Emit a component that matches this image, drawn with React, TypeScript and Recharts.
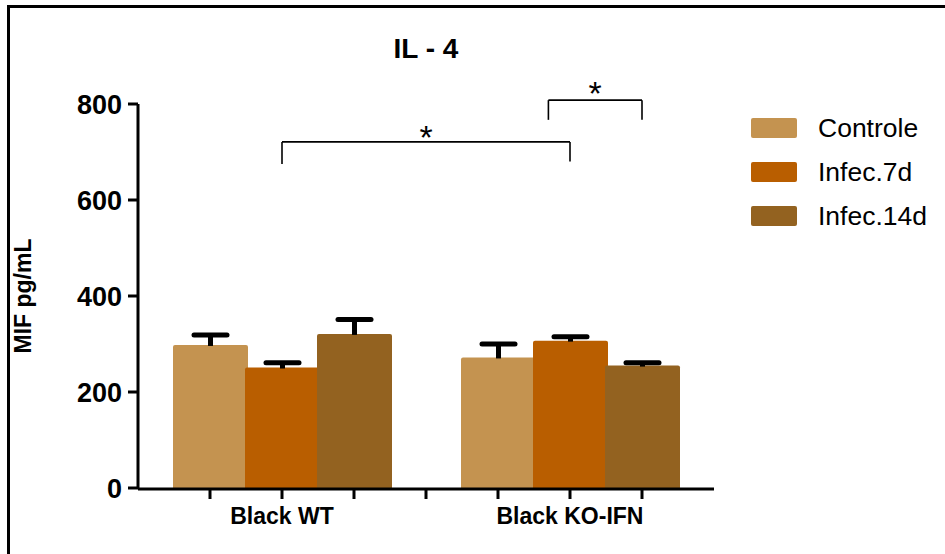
import React from 'react';
import { BarChart, Bar, XAxis, YAxis, Legend, ReferenceLine, ReferenceDot } from 'recharts';

const groups = ['Black WT', 'Black KO-IFN'];
const groupSlots = [2, 6];
const seriesNames = ['Controle', 'Infec.7d', 'Infec.14d'];
const seriesKeys = ['controle', 'infec7', 'infec14'];
const seriesColors = ['#C49350', '#B95E00', '#936220'];
const controleMean = [298, 272];
const controleErr = [21, 28];
const infec7Mean = [251, 307];
const infec7Err = [10, 8];
const infec14Mean = [321, 255];
const infec14Err = [30, 6];
const yTicks = [0, 200, 400, 600, 800];
const slotTicks = [1, 2, 3, 4, 5, 6, 7];
const brackets = [
  { x1: 2, x2: 6, y: 721, yEnd1: 675, yEnd2: 680 },
  { x1: 5.7, x2: 7, y: 808, yEnd1: 767, yEnd2: 767 },
];
const stars = [
  { x: 4, y: 707 },
  { x: 6.35, y: 798 },
];

const data = groups.map((g, i) => ({
  group: g,
  slot: groupSlots[i],
  controle: controleMean[i],
  controleErr: controleErr[i],
  infec7: infec7Mean[i],
  infec7Err: infec7Err[i],
  infec14: infec14Mean[i],
  infec14Err: infec14Err[i],
}));

const FONT = "'Liberation Sans', Arial, Helvetica, sans-serif";

const makeShape = (errKey: string) => (props: any) => {
  const { x, y, width, height, fill, payload, value } = props;
  const v = Array.isArray(value) ? value[1] : value;
  const err = payload[errKey];
  const pxPerUnit = v ? height / v : 0;
  const top = y - err * pxPerUnit;
  const cx = x + width / 2;
  const r = 2;
  return (
    <g>
      <path
        d={`M${x},${y + height} L${x},${y + r} Q${x},${y} ${x + r},${y} L${x + width - r},${y} Q${x + width},${y} ${x + width},${y + r} L${x + width},${y + height} Z`}
        fill={fill}
      />
      <line x1={cx} y1={y + 1} x2={cx} y2={top} stroke="#000" strokeWidth={5} />
      <line x1={cx - 16.5} x2={cx + 16.5} y1={top} y2={top} stroke="#000" strokeWidth={5} strokeLinecap="round" />
    </g>
  );
};

const XTick = (props: any) => {
  const { x, y, payload } = props;
  return (
    <text x={x} y={y + 35} textAnchor="middle" fontWeight="bold" fontSize={23} fill="#000" fontFamily={FONT}>
      {payload.value}
    </text>
  );
};

const LegendContent = () => (
  <div style={{ fontFamily: FONT, fontSize: 26.5, color: '#000' }}>
    {seriesNames.map((n, i) => (
      <div key={n} style={{ display: 'flex', alignItems: 'center', height: 44 }}>
        <div style={{ width: 46, height: 20, background: seriesColors[i], borderRadius: 2 }} />
        <span style={{ marginLeft: 21 }}>{n}</span>
      </div>
    ))}
  </div>
);

const YLabel = (p: any) => {
  const vb = p.viewBox || { x: 0, y: 104, width: 138, height: 384 };
  return (
    <text
      transform={`translate(${vb.x + 23},${vb.y + vb.height / 2}) rotate(-90)`}
      textAnchor="middle"
      dominantBaseline="central"
      fontWeight="bold"
      fontSize={23}
      fill="#000"
      fontFamily={FONT}
    >
      MIF pg/mL
    </text>
  );
};

export default function App() {
  return (
    <div style={{ position: 'absolute', left: 0, top: 0, width: 945, height: 554, fontFamily: FONT, background: '#fff' }}>
      <div
        style={{
          position: 'absolute',
          left: 7,
          top: 5,
          width: 945 - 7,
          height: 554 - 5,
          borderTop: '3px solid #000',
          borderLeft: '3px solid #000',
          boxSizing: 'border-box',
          pointerEvents: 'none',
        }}
      />
      <div
        style={{
          position: 'absolute',
          left: 138,
          width: 576,
          top: 33,
          textAlign: 'center',
          fontWeight: 'bold',
          fontSize: 28,
          color: '#000',
        }}
      >
        IL - 4
      </div>
      <BarChart
        width={945}
        height={554}
        data={data}
        margin={{ top: 104, right: 231, left: 0, bottom: 0 }}
        barSize={75}
        barGap={-3}
        style={{ fontFamily: FONT }}
      >
        <XAxis
          xAxisId="axisA"
          dataKey="slot"
          type="number"
          domain={[0, 8]}
          allowDataOverflow
          ticks={slotTicks}
          interval={0}
          axisLine={false}
          tickLine={{ stroke: '#000', strokeWidth: 3 }}
          tickSize={11}
          tickFormatter={() => ''}
          height={1}
        />
        <XAxis
          xAxisId="axisB"
          dataKey="group"
          axisLine={{ stroke: '#000', strokeWidth: 3 }}
          tickLine={false}
          tickSize={0}
          tickMargin={0}
          tick={<XTick />}
          height={65}
          interval={0}
        />
        <YAxis
          domain={[0, 800]}
          ticks={yTicks}
          interval={0}
          width={138}
          axisLine={{ stroke: '#000', strokeWidth: 3 }}
          tickLine={{ stroke: '#000', strokeWidth: 3 }}
          tickSize={10}
          tickMargin={6}
          tick={{ fill: '#000', fontSize: 27, fontWeight: 'bold', fontFamily: FONT }}
          label={{ content: <YLabel /> }}
        />
        {seriesKeys.map((k, i) => (
          <Bar
            key={k}
            xAxisId="axisB"
            dataKey={k}
            name={seriesNames[i]}
            fill={seriesColors[i]}
            isAnimationActive={false}
            shape={makeShape(k + 'Err')}
          />
        ))}
        {brackets.map((b, i) => (
          <ReferenceLine
            key={'h' + i}
            xAxisId="axisA"
            ifOverflow="visible"
            segment={[{ x: b.x1, y: b.y }, { x: b.x2, y: b.y }]}
            stroke="#000"
            strokeWidth={1.6}
          />
        ))}
        {brackets.map((b, i) => (
          <ReferenceLine
            key={'l' + i}
            xAxisId="axisA"
            ifOverflow="visible"
            segment={[{ x: b.x1, y: b.y }, { x: b.x1, y: b.yEnd1 }]}
            stroke="#000"
            strokeWidth={1.6}
          />
        ))}
        {brackets.map((b, i) => (
          <ReferenceLine
            key={'r' + i}
            xAxisId="axisA"
            ifOverflow="visible"
            segment={[{ x: b.x2, y: b.y }, { x: b.x2, y: b.yEnd2 }]}
            stroke="#000"
            strokeWidth={1.6}
          />
        ))}
        {stars.map((s, i) => (
          <ReferenceDot
            key={'s' + i}
            xAxisId="axisA"
            x={s.x}
            y={s.y}
            r={0}
            ifOverflow="visible"
            shape={(p: any) => (
              <text x={p.cx} y={p.cy} textAnchor="middle" fontSize={34} fill="#000" fontFamily={FONT}>
                *
              </text>
            )}
          />
        ))}
        <Legend
          layout="vertical"
          align="center"
          verticalAlign="middle"
          content={<LegendContent />}
          wrapperStyle={{ left: 751, top: 106, width: 194, right: 'auto', bottom: 'auto' }}
        />
      </BarChart>
    </div>
  );
}
